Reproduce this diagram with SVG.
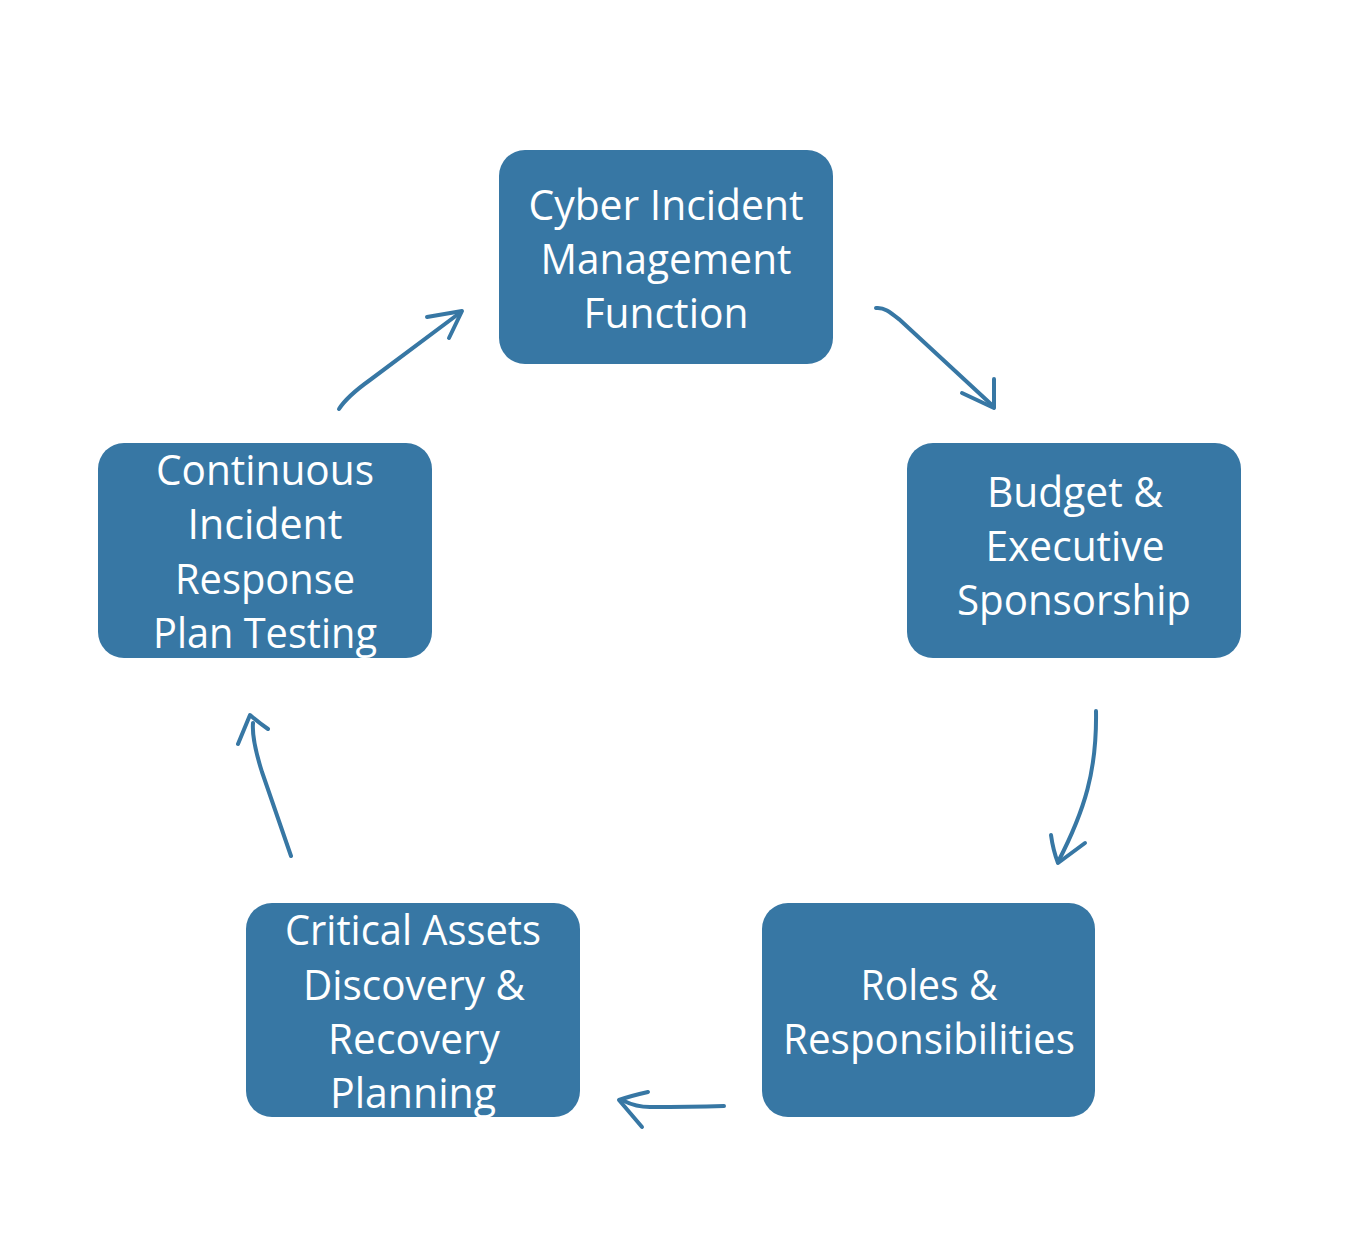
<svg xmlns="http://www.w3.org/2000/svg" width="1359" height="1241" viewBox="0 0 1359 1241">
<style>
.box{fill:#3777a4}
.t{fill:#ffffff;font-family:"Open Sans","Noto Sans",sans-serif;font-size:42px;text-anchor:middle}
.c{fill:none;stroke:#3777a4;stroke-width:4;stroke-linecap:round;stroke-linejoin:round}
</style>
<rect width="1359" height="1241" fill="#ffffff"/>
<g id="node-cyber">
<rect class="box" x="499" y="150" width="334" height="214" rx="26"/>
<text class="t" x="666" y="220" textLength="275" lengthAdjust="spacingAndGlyphs">Cyber Incident</text>
<text class="t" x="666" y="274" textLength="251" lengthAdjust="spacingAndGlyphs">Management</text>
<text class="t" x="666" y="328" textLength="165" lengthAdjust="spacingAndGlyphs">Function</text>
</g>
<g id="node-budget">
<rect class="box" x="907" y="443" width="334" height="215" rx="26"/>
<text class="t" x="1075" y="507" textLength="176" lengthAdjust="spacingAndGlyphs">Budget &amp;</text>
<text class="t" x="1075" y="561" textLength="179" lengthAdjust="spacingAndGlyphs">Executive</text>
<text class="t" x="1074" y="615" textLength="234" lengthAdjust="spacingAndGlyphs">Sponsorship</text>
</g>
<g id="node-roles">
<rect class="box" x="762" y="903" width="333" height="214" rx="26"/>
<text class="t" x="929" y="1000" textLength="137" lengthAdjust="spacingAndGlyphs">Roles &amp;</text>
<text class="t" x="929" y="1054" textLength="292" lengthAdjust="spacingAndGlyphs">Responsibilities</text>
</g>
<g id="node-critical">
<rect class="box" x="246" y="903" width="334" height="214" rx="26"/>
<text class="t" x="413" y="945" textLength="256" lengthAdjust="spacingAndGlyphs">Critical Assets</text>
<text class="t" x="414" y="1000" textLength="222" lengthAdjust="spacingAndGlyphs">Discovery &amp;</text>
<text class="t" x="414" y="1054" textLength="172" lengthAdjust="spacingAndGlyphs">Recovery</text>
<text class="t" x="413" y="1108" textLength="166" lengthAdjust="spacingAndGlyphs">Planning</text>
</g>
<g id="node-continuous">
<rect class="box" x="98" y="443" width="334" height="215" rx="26"/>
<text class="t" x="265" y="485" textLength="218" lengthAdjust="spacingAndGlyphs">Continuous</text>
<text class="t" x="265" y="539" textLength="155" lengthAdjust="spacingAndGlyphs">Incident</text>
<text class="t" x="265" y="594" textLength="180" lengthAdjust="spacingAndGlyphs">Response</text>
<text class="t" x="265" y="648" textLength="224" lengthAdjust="spacingAndGlyphs">Plan Testing</text>
</g>
<g id="connectors">
<path class="c" d="M876,308 C884,307 890,312 900,320 L993,406"/>
<path class="c" d="M962,393 L994,408 L994,379"/>
<path class="c" d="M1096,711 C1097,770 1085,810 1058,862"/>
<path class="c" d="M1051,835 Q1053,850 1058,863 L1085,843"/>
<path class="c" d="M724,1106 C690,1107 665,1107 650,1107 C640,1107 630,1104 624,1101"/>
<path class="c" d="M648,1092 Q630,1096 619,1100 L642,1127"/>
<path class="c" d="M291,856 L262,772 C255,750 252,735 253,723"/>
<path class="c" d="M238,744 L250,715 Q258,722 268,729"/>
<path class="c" d="M339,409 C346,398 356,390 370,380 L461,312"/>
<path class="c" d="M427,317 L462,311 L449,338"/>
</g>
</svg>
